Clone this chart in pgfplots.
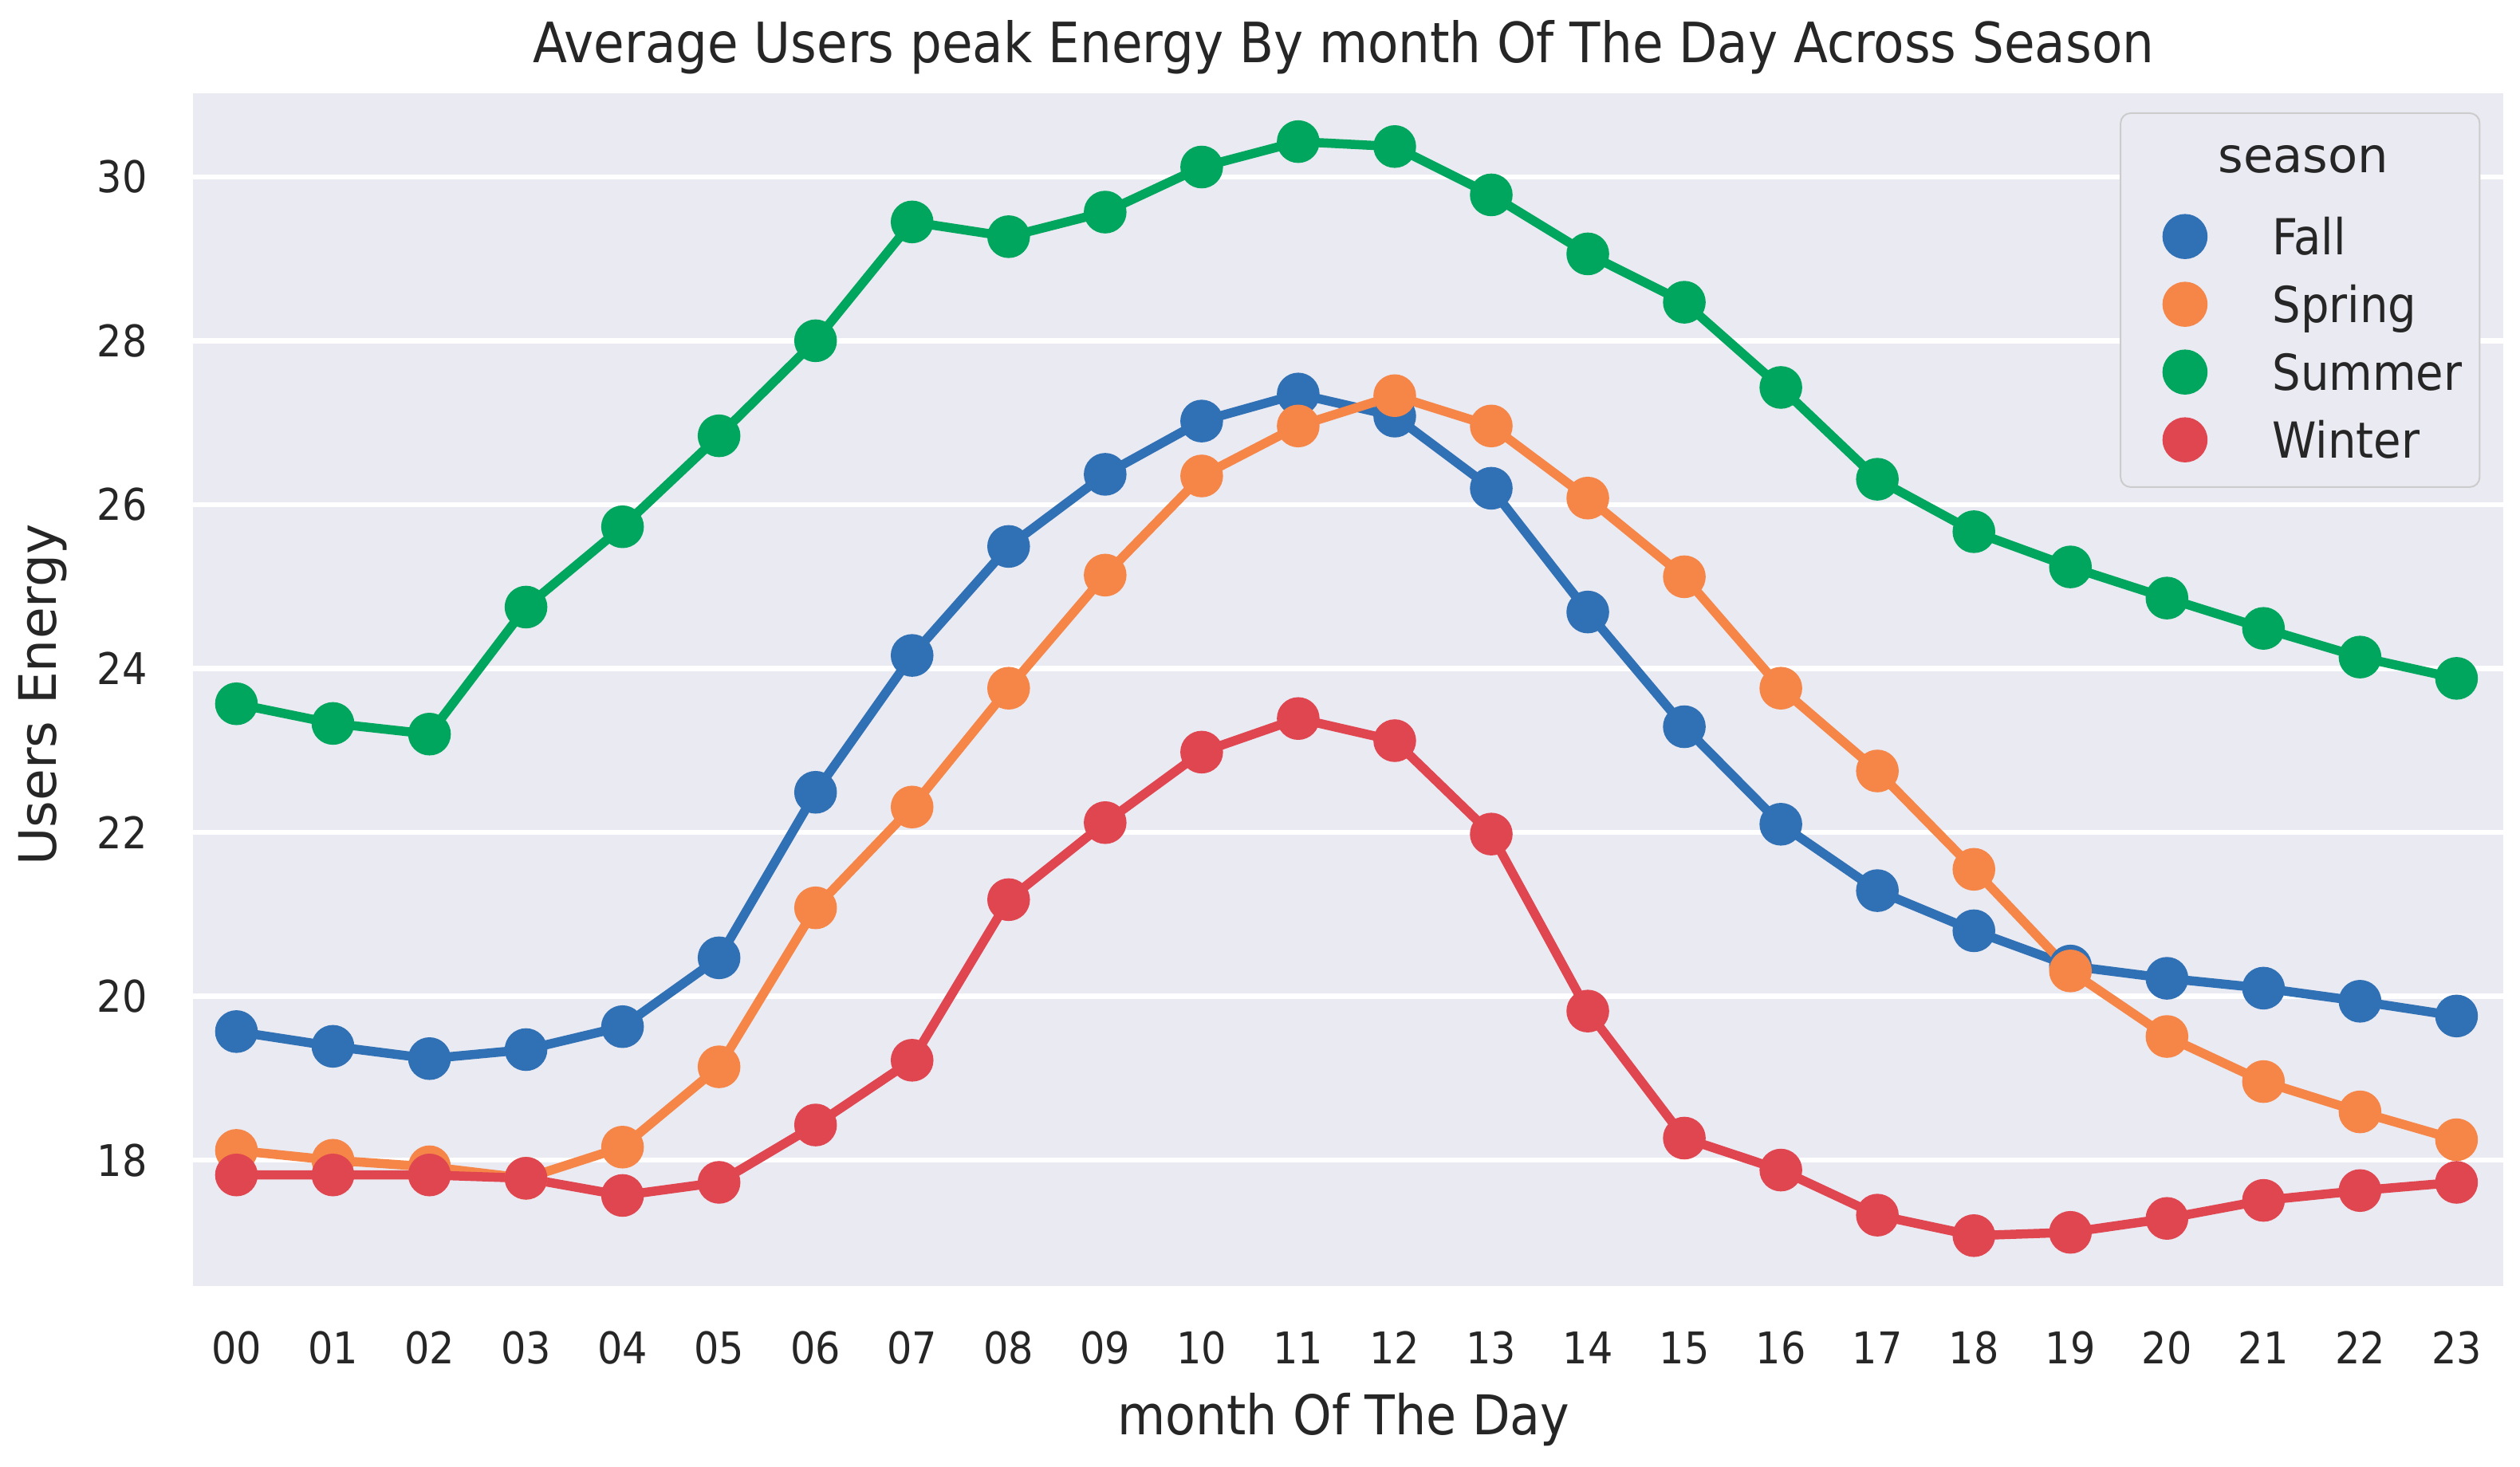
\documentclass[border=0pt]{standalone}
\usepackage{pgfplots}
\pgfplotsset{compat=1.18}
\usepackage{fontspec}
\setmainfont{DejaVu Sans}
\newfontfamily\cond{DejaVu Sans Condensed}

\definecolor{bgc}{RGB}{234,234,242}
\definecolor{txt}{RGB}{38,38,38}
\definecolor{cFall}{RGB}{48,112,181}
\definecolor{cSpring}{RGB}{245,134,72}
\definecolor{cSummer}{RGB}{0,166,93}
\definecolor{cWinter}{RGB}{224,70,80}

% hour  value
\pgfplotstableread{
h v
0 19.57
1 19.39
2 19.24
3 19.35
4 19.63
5 20.47
6 22.49
7 24.16
8 25.49
9 26.37
10 27.02
11 27.35
12 27.08
13 26.20
14 24.69
15 23.29
16 22.10
17 21.29
18 20.80
19 20.37
20 20.22
21 20.10
22 19.94
23 19.76
}\fall

\pgfplotstableread{
h v
0 18.12
1 18.00
2 17.92
3 17.78
4 18.16
5 19.14
6 21.08
7 22.31
8 23.76
9 25.14
10 26.35
11 26.96
12 27.33
13 26.96
14 26.08
15 25.12
16 23.76
17 22.75
18 21.55
19 20.31
20 19.51
21 18.96
22 18.59
23 18.25
}\spring

\pgfplotstableread{
h v
0 23.57
1 23.33
2 23.20
3 24.75
4 25.73
5 26.84
6 28.00
7 29.45
8 29.27
9 29.57
10 30.12
11 30.43
12 30.37
13 29.78
14 29.06
15 28.47
16 27.43
17 26.31
18 25.67
19 25.24
20 24.86
21 24.49
22 24.14
23 23.88
}\summer

\pgfplotstableread{
h v
0 17.82
1 17.82
2 17.82
3 17.78
4 17.57
5 17.73
6 18.43
7 19.22
8 21.18
9 22.12
10 22.98
11 23.39
12 23.12
13 21.98
14 19.82
15 18.27
16 17.88
17 17.33
18 17.08
19 17.12
20 17.29
21 17.51
22 17.63
23 17.73
}\winter

\begin{document}
\begin{tikzpicture}
\begin{axis}[
  at={(48.4bp,45.5bp)}, anchor=south west,
  scale only axis, width=579.3bp, height=299.1bp,
  xmin=-0.45, xmax=23.48, ymin=16.47, ymax=31.02,
  axis background/.style={fill=bgc},
  axis line style={draw=none},
  major tick length=0pt,
  xtick={0,...,23},
  xticklabels={00,01,02,03,04,05,06,07,08,09,10,11,12,13,14,15,16,17,18,19,20,21,22,23},
  ytick={18,20,...,30},
  ymajorgrids,
  grid style={white, line width=1.3bp},
  /pgf/number format/assume math mode=true,
  tick label style={font=\cond\fontsize{11}{13}\selectfont, text=txt},
  xticklabel style={yshift=-8bp},
  yticklabel style={xshift=-8bp},
  pt/.style={color=#1, line width=2.3bp, mark=*, mark size=4.2bp,
    mark options={draw=none, fill=#1},
    legend image code/.code={\path (0bp,0bp); \fill[#1] (10.6bp,1.3bp) circle (4.5bp);}},
  legend cell align=left,
  legend style={at={(0.9903,0.984)}, anchor=north east,
    draw={rgb,255:red,204;green,204;blue,204}, fill=bgc, rounded corners=2.5bp,
    inner xsep=4.4bp, inner ysep=4.8bp, row sep=4.3bp, column sep=16.3bp,
    font=\cond\fontsize{12.5}{14}\selectfont, text=txt,
    nodes={inner sep=0pt, text height=9bp, text depth=2.5bp}},
]
\addlegendimage{empty legend}
\addlegendentry[text height=10.2bp, text depth=6bp]{\hspace*{7.7bp}\makebox[0pt][c]{\normalfont\fontsize{12.2}{14}\selectfont season}}
\addplot[pt=cFall] table[x=h, y=v] {\fall};
\addlegendentry{Fall}
\addplot[pt=cSpring] table[x=h, y=v] {\spring};
\addlegendentry{Spring}
\addplot[pt=cSummer] table[x=h, y=v] {\summer};
\addlegendentry{Summer}
\addplot[pt=cWinter] table[x=h, y=v] {\winter};
\addlegendentry{Winter}
\end{axis}
\node[anchor=base, text=txt, font=\cond\fontsize{14}{16}\selectfont] at (337bp,352.3bp)
  {Average Users peak Energy By month Of The Day Across Season};
\node[anchor=base, text=txt, font=\cond\fontsize{13.8}{16}\selectfont] at (337bp,8.1bp)
  {month Of The Day};
\node[anchor=base, rotate=90, text=txt, font=\fontsize{13}{15}\selectfont] at (14.1bp,193.7bp)
  {Users Energy};
\pgfresetboundingbox
\path[use as bounding box] (0bp,0bp) rectangle (632bp,368bp);
\end{tikzpicture}
\end{document}
